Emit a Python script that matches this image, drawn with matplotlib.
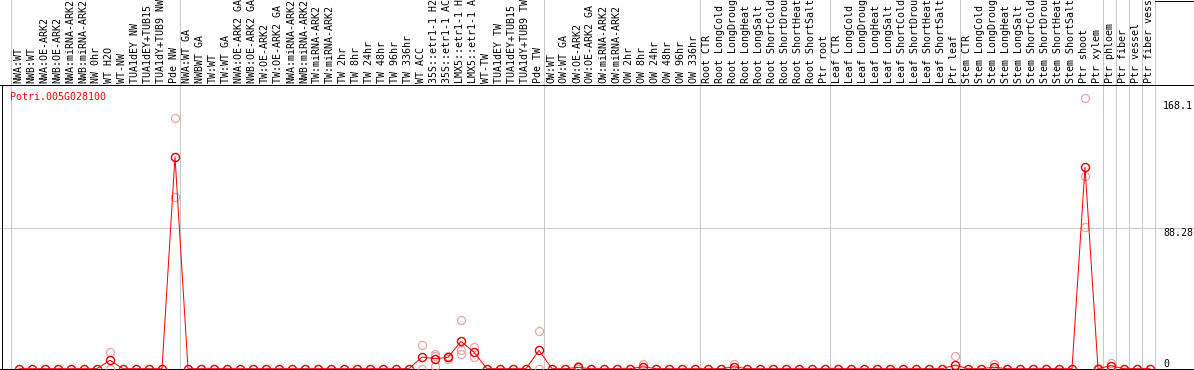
import matplotlib
matplotlib.use("Agg")
import matplotlib.pyplot as plt
import matplotlib.transforms as mtransforms
from matplotlib.lines import Line2D

# sample names along the top
samples = [
    "NWA:WT", "NWB:WT", "NWA:OE-ARK2", "NWB:OE-ARK2", "NWA:miRNA-ARK2", "NWB:miRNA-ARK2",
    "NW 0hr", "WT H2O", "WT-NW", "TUA1dEY NW", "TUA1dEY+TUB15 NW", "TUA1dY+TUB9 NW", "Pde NW",
    "NWA:WT GA", "NWBWT GA", "TW:WT", "TW:WT GA", "NWA:OE-ARK2 GA", "NWB:OE-ARK2 GA",
    "TW:OE-ARK2", "TW:OE-ARK2 GA", "NWA:miRNA-ARK2", "NWB:miRNA-ARK2", "TW:miRNA-ARK2",
    "TW:miRNA-ARK2", "TW 2hr", "TW 8hr", "TW 24hr", "TW 48hr", "TW 96hr", "TW 336hr",
    "WT ACC", "35S::etr1-1 H2O", "35S::etr1-1 ACC", "LMX5::etr1-1 H2O", "LMX5::etr1-1 ACC",
    "WT-TW", "TUA1dEY TW", "TUA1dEY+TUB15 TW", "TUA1dY+TUB9 TW", "Pde TW",
    "OW:WT", "OW:WT GA", "OW:OE-ARK2", "OW:OE-ARK2 GA", "OW:miRNA-ARK2", "OW:miRNA-ARK2",
    "OW 2hr", "OW 8hr", "OW 24hr", "OW 48hr", "OW 96hr", "OW 336hr",
    "Root CTR", "Root LongCold", "Root LongDrought", "Root LongHeat", "Root LongSalt",
    "Root ShortCold", "Root ShortDrought", "Root ShortHeat", "Root ShortSalt", "Ptr root",
    "Leaf CTR", "Leaf LongCold", "Leaf LongDrought", "Leaf LongHeat", "Leaf LongSalt",
    "Leaf ShortCold", "Leaf ShortDrought", "Leaf ShortHeat", "Leaf ShortSalt", "Ptr leaf",
    "Stem CTR", "Stem LongCold", "Stem LongDrought", "Stem LongHeat", "Stem LongSalt",
    "Stem ShortCold", "Stem ShortDrought", "Stem ShortHeat", "Stem ShortSalt", "Ptr shoot",
    "Ptr xylem", "Ptr phloem", "Ptr fiber", "Ptr vessel", "Ptr fiber vessel",
]

# mean expression per sample
values = [
    0, 0, 0, 0, 0, 0, 0, 5.3, 0, 0, 0, 0, 133.0,
    0, 0, 0, 0, 0, 0, 0, 0, 0, 0, 0, 0, 0, 0, 0, 0, 0, 0,
    7.3, 6.3, 7.1, 17.2, 10.3, 0, 0, 0, 0, 11.5,
    0, 0, 0.8, 0, 0, 0, 0, 1.2, 0, 0, 0, 0,
    0, 0, 1.2, 0, 0, 0, 0, 0, 0, 0,
    0, 0, 0, 0, 0, 0, 0, 0, 0, 2.3,
    0, 0, 0.9, 0, 0, 0, 0, 0, 0, 126.3,
    0, 1.9, 0, 0, 0,
]

# replicate values that stand apart from the mean
replicates = {
    7: [10.7, 0.0],
    12: [157.0, 107.7],
    31: [14.9, 0.0],
    32: [9.2, 2.0, 7.7],
    33: [8.0, 6.2],
    34: [30.4, 11.7, 9.0],
    35: [13.8, 7.1],
    40: [23.5, 0.0],
    43: [1.5, 0.0],
    48: [3.0, 0.0],
    55: [3.0, 0.0],
    72: [8.0, 0.0],
    75: [3.1, 0.0],
    82: [169.6, 121.0, 89.0],
    83: [0.5],
    84: [3.8, 0.0],
}

group_starts = [0, 13, 41, 53, 63, 73, 84, 85, 86, 87, 88]
ytick_vals = [168.1, 88.28, 0]
ytick_text = ["168.1", "88.28", "0"]
gene = "Potri.005G028100"

W, H = 1194, 370
fig = plt.figure(figsize=(W / 100, H / 100), dpi=100)
ax = fig.add_axes([0, 0, 1, 1])
ax.set_axis_off()

# pixel layout: sample i at x = 19 + 13*i, value 0 at 368.7 px from top
step = 13.0
ax.set_xlim(-19 / step, (W - 19) / step)
scale = 1.594
ax.set_ylim(-(H - 368.7) / scale, 368.7 / scale)
header_val = (368.7 - 85) / scale

px = 1 / 100 * 72  # one pixel in points
mono = "DejaVu Sans Mono"
fs = 7.2

# gridlines
for b in group_starts:
    ax.axvline(b - 0.6, color="#c8c8c8", lw=px, zorder=1)
ax.axhline(88.28, color="#c8c8c8", lw=px, zorder=1)
ax.axhline(header_val, color="black", lw=px, zorder=2)
ax.axhline(0, color="black", lw=px, zorder=2)

# frame pieces drawn in pixel coordinates
def fig_line(xs, ys):
    fig.add_artist(Line2D([x / W for x in xs], [1 - y / H for y in ys],
                          color="black", lw=px, transform=fig.transFigure))

fig_line([1.5, 1.5], [85, 370])
fig_line([1155, 1194], [0.5, 0.5])
fig_line([1193.5, 1193.5], [0, 85])

# replicate markers
for i, reps in replicates.items():
    ax.plot([i] * len(reps), reps, "o", ms=5.8, mfc="none", mec="#f0a0a0",
            mew=px * 1.2, zorder=3)

# mean line and markers
xs = list(range(len(values)))
ax.plot(xs, values, "-", color="#ff0000", lw=px, zorder=4)
ax.plot(xs, values, "o", ms=5.8, mfc="none", mec="#e00000", mew=px * 1.4, zorder=5)

# sample labels in the header
trans = mtransforms.blended_transform_factory(ax.transData, fig.transFigure)
for i, name in enumerate(samples):
    ax.text(i - 1 / step, 1 - 83 / H, name, rotation=90, ha="center", va="bottom",
            family=mono, fontsize=fs, transform=trans, clip_on=False)

# value labels on the right
for v, t in zip(ytick_vals, ytick_text):
    ax.text((1163 - 19) / step, v, t, ha="left", va="bottom" if v == 0 else "top",
            family=mono, fontsize=fs)

fig.text(10 / W, 1 - 97 / H, gene, color="#ff0000", ha="left", va="center",
         family=mono, fontsize=fs)

fig.savefig("out.png", dpi=100)
